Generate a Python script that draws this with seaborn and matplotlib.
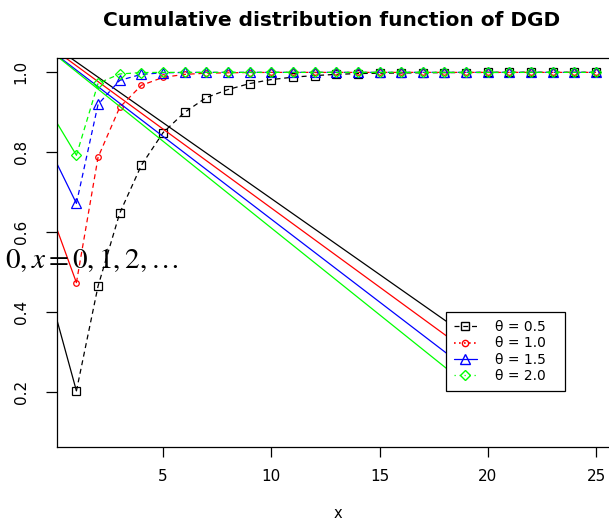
import numpy as np
import pandas as pd
import matplotlib
matplotlib.use("Agg")
import matplotlib.pyplot as plt
import seaborn as sns
from matplotlib.lines import Line2D

# ---- data ----
x_vals = list(range(1, 26))
cdf_05 = [0.2025, 0.465, 0.6475, 0.7675, 0.849, 0.900, 0.937, 0.957, 0.972, 0.982,
          0.988, 0.992, 0.995, 0.997, 0.998, 0.9985, 0.999, 0.9993, 0.9996, 0.9998,
          0.9999, 1.0, 1.0, 1.0, 1.0]
cdf_10 = [0.4735, 0.7875, 0.9125, 0.9675, 0.9875, 0.995, 0.998, 0.999, 0.9996, 1.0,
          1.0, 1.0, 1.0, 1.0, 1.0, 1.0, 1.0, 1.0, 1.0, 1.0, 1.0, 1.0, 1.0, 1.0, 1.0]
cdf_15 = [0.672, 0.92, 0.98, 0.995, 0.999, 0.9997, 1.0, 1.0, 1.0, 1.0,
          1.0, 1.0, 1.0, 1.0, 1.0, 1.0, 1.0, 1.0, 1.0, 1.0, 1.0, 1.0, 1.0, 1.0, 1.0]
cdf_20 = [0.7925, 0.9725, 0.996, 0.9995, 1.0, 1.0, 1.0, 1.0, 1.0, 1.0,
          1.0, 1.0, 1.0, 1.0, 1.0, 1.0, 1.0, 1.0, 1.0, 1.0, 1.0, 1.0, 1.0, 1.0, 1.0]
series_labels = ["\u03b8 = 0.5", "\u03b8 = 1.0", "\u03b8 = 1.5", "\u03b8 = 2.0"]
# solid segment from x=0 to x=1
start_at_zero = [0.40, 0.6225, 0.7825, 0.8825]
# long straight lines (start at x=0, end near legend)
long_start_y = [1.064, 1.056, 1.047, 1.045]
long_end_x = 18.5
long_end_y = [0.361, 0.324, 0.280, 0.241]

title = "Cumulative distribution function of DGD"
x_label = "x"
x_ticks = [5, 10, 15, 20, 25]
y_ticks = [0.2, 0.4, 0.6, 0.8, 1.0]

# ---- style ----
sns.set_style("white")
plt.rcParams["font.family"] = ["DejaVu Sans"]
plt.rcParams["mathtext.fontset"] = "stix"
plt.rcParams["text.color"] = "black"
plt.rcParams["xtick.color"] = "black"
plt.rcParams["ytick.color"] = "black"
plt.rcParams["xtick.labelcolor"] = "black"
plt.rcParams["ytick.labelcolor"] = "black"

colors = ["#000000", "#FF0000", "#0000FF", "#00FF00"]
markers = ["s", "o", "^", "D"]
msizes = [5.5, 4.0, 7.0, 5.5]

W, H = 609, 522
fig = plt.figure(figsize=(W / 100, H / 100), dpi=100)
ax_l, ax_r, ax_t, ax_b = 56.5, 617.7, 58.0, 447.0
ax = fig.add_axes([ax_l / W, 1 - ax_b / H, (ax_r - ax_l) / W, (ax_b - ax_t) / H])

series = [cdf_05, cdf_10, cdf_15, cdf_20]
for i, ys in enumerate(series):
    df = pd.DataFrame({"x": x_vals, "F": ys})
    sns.lineplot(data=df, x="x", y="F", ax=ax, color=colors[i], linestyle=(0, (4, 3)),
                 linewidth=0.9, marker=markers[i], markersize=msizes[i],
                 markerfacecolor="none", markeredgecolor=colors[i], markeredgewidth=0.9,
                 legend=False, estimator=None, sort=False)
    # solid segment x=0 -> x=1
    seg = pd.DataFrame({"x": [0, x_vals[0]], "F": [start_at_zero[i], ys[0]]})
    sns.lineplot(data=seg, x="x", y="F", ax=ax, color=colors[i], linewidth=0.9,
                 legend=False, estimator=None, sort=False)
    # long straight line
    lng = pd.DataFrame({"x": [0, long_end_x], "F": [long_start_y[i], long_end_y[i]]})
    sns.lineplot(data=lng, x="x", y="F", ax=ax, color=colors[i], linewidth=0.9,
                 legend=False, estimator=None, sort=False)

ax.set_xlim(0.08, 26.0)
ax.set_ylim(0.062, 1.036)
ax.set_xticks(x_ticks)
ax.set_yticks(y_ticks)
ax.set_yticklabels([f"{v:.1f}" for v in y_ticks], rotation=90, va="center")
ax.tick_params(axis="both", direction="out", length=8, width=0.9, color="black",
               labelcolor="black", labelsize=11, left=True, bottom=True)
ax.tick_params(axis="x", length=7, pad=9)
ax.tick_params(axis="y", pad=12)
for s in ax.spines.values():
    s.set_visible(True)
    s.set_color("black")
    s.set_linewidth(0.9)
ax.set_xlabel("")
ax.set_ylabel("")

fig.text(338 / W, 1 - 514 / H, x_label, ha="center", va="center", fontsize=10.5,
         color="black")
fig.text(332 / W, 1 - 20 / H, title, ha="center", va="center", fontsize=14.5,
         fontweight="bold", color="black")

# stray math text
fig.text(5 / W, 1 - 268 / H, r"$0,x=0,1,2,\ldots$", ha="left", va="baseline",
         fontsize=21, color="black")

handles = [
    Line2D([], [], color=colors[0], linestyle=(0, (4, 3)), linewidth=0.9, marker=markers[0],
           markersize=5.5, markerfacecolor="none"),
    Line2D([], [], color=colors[1], linestyle=(0, (1, 2)), linewidth=1.2, marker=markers[1],
           markersize=4.5, markerfacecolor="none"),
    Line2D([], [], color=colors[2], linestyle="-", linewidth=0.9, marker=markers[2],
           markersize=7, markerfacecolor="none"),
    Line2D([], [], color=colors[3], linestyle=(0, (1, 3)), linewidth=0.9, marker=markers[3],
           markersize=5.5, markerfacecolor="none"),
]
bx0 = (446 - ax_l) / (ax_r - ax_l)
bx1 = (565 - ax_l) / (ax_r - ax_l)
by0 = (ax_b - 391) / (ax_b - ax_t)
by1 = (ax_b - 312) / (ax_b - ax_t)
leg = ax.legend(handles, series_labels, loc="upper left",
                bbox_to_anchor=(bx0, by0, bx1 - bx0, by1 - by0), mode="expand",
                fontsize=10, frameon=True, fancybox=False, framealpha=1,
                edgecolor="black", handlelength=1.6, handletextpad=1.3,
                labelspacing=0.15, borderpad=0.6, borderaxespad=0)
leg.get_frame().set_linewidth(0.9)
for t in leg.get_texts():
    t.set_color("black")

fig.savefig("out.png", dpi=100)
